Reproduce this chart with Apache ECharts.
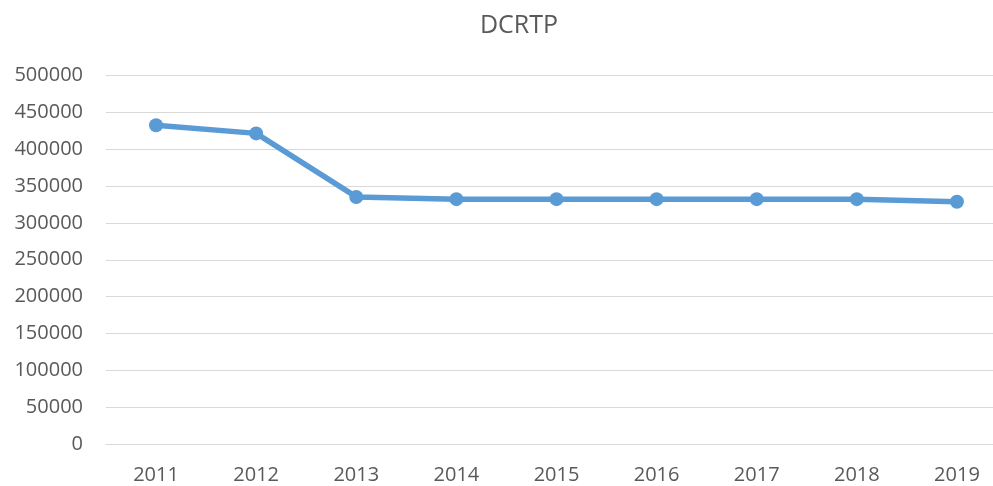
<!DOCTYPE html>
<html>
<head>
<meta charset="utf-8">
<script src="https://cdn.jsdelivr.net/npm/echarts@6/dist/echarts.min.js"></script>
<style>
  html, body { margin: 0; padding: 0; background: #fff; overflow: hidden; }
  #chart { width: 1010px; height: 486px; }
</style>
</head>
<body>
<div id="chart"></div>
<script>
  var years = ['2011', '2012', '2013', '2014', '2015', '2016', '2017', '2018', '2019'];
  var dcrtp = [432000, 421000, 335000, 332000, 332000, 332000, 332000, 332000, 328500];

  var myChart = echarts.init(document.getElementById('chart'));
  var option = {
    backgroundColor: '#fff',
    title: {
      text: 'DCRTP',
      left: 514,
      textAlign: 'center',
      top: 8,
      textStyle: { fontFamily: 'Open Sans', fontSize: 25, fontWeight: 'normal', color: '#595959' }
    },
    grid: {
      left: 106,
      top: 75,
      width: 901,
      height: 369.5,
      containLabel: false
    },
    xAxis: {
      type: 'category',
      data: years,
      boundaryGap: true,
      axisLine: { show: true, lineStyle: { color: '#d9d9d9', width: 1 } },
      axisTick: { show: false },
      axisLabel: { color: '#595959', fontFamily: 'Open Sans', fontSize: 20, margin: 21 }
    },
    yAxis: {
      type: 'value',
      min: 0,
      max: 500000,
      interval: 50000,
      axisLine: { show: false },
      axisTick: { show: false },
      axisLabel: {
        color: '#595959', fontFamily: 'Open Sans', fontSize: 20, margin: 23,
        formatter: function (v) { return String(v); }
      },
      splitLine: { lineStyle: { color: '#d9d9d9', width: 1 } }
    },
    series: [{
      name: 'DCRTP',
      type: 'line',
      data: dcrtp,
      symbol: 'circle',
      symbolSize: 14,
      lineStyle: { color: '#5B9BD5', width: 5.5 },
      itemStyle: { color: '#5B9BD5' },
      animation: false
    }]
  };
  myChart.setOption(option);
</script>
</body>
</html>
